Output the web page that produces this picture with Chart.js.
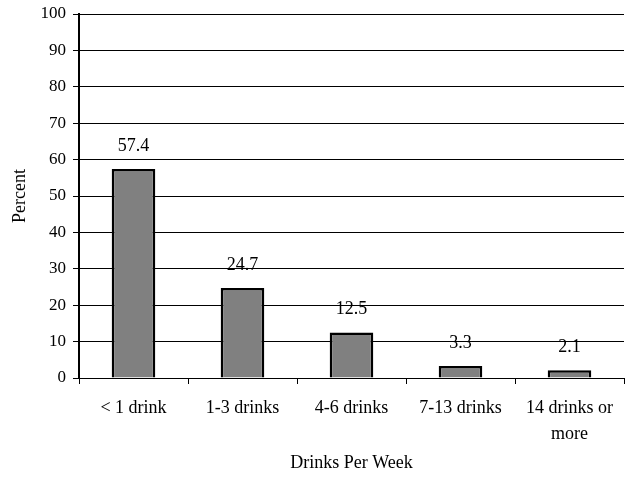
<!DOCTYPE html>
<html>
<head>
<meta charset="utf-8">
<script src="https://cdn.jsdelivr.net/npm/chart.js@4/dist/chart.umd.min.js"></script>
<style>
  html, body { margin: 0; padding: 0; background: #fff; }
  #wrap { width: 628px; height: 477px; }
</style>
</head>
<body>
<div id="wrap"><canvas id="c" width="628" height="477"></canvas></div>
<script>
// Drinks per week distribution (percent of respondents)
const categories = ['< 1 drink', '1-3 drinks', '4-6 drinks', '7-13 drinks', ['14 drinks or', 'more']];
const percents = [57.4, 24.7, 12.5, 3.3, 2.1];
const yTicks = [0, 10, 20, 30, 40, 50, 60, 70, 80, 90, 100];

const FONT = "'Liberation Serif', 'Times New Roman', serif";

// Writes each bar's value above it
const valueLabels = {
  id: 'valueLabels',
  afterDatasetsDraw(chart) {
    const ctx = chart.ctx;
    const meta = chart.getDatasetMeta(0);
    ctx.save();
    ctx.font = '18px ' + FONT;
    ctx.fillStyle = '#000';
    ctx.textAlign = 'center';
    ctx.textBaseline = 'middle';
    meta.data.forEach((bar, i) => {
      ctx.fillText(String(percents[i]), bar.x, bar.y - 23);
    });
    ctx.restore();
  }
};

new Chart(document.getElementById('c'), {
  type: 'bar',
  data: {
    labels: categories,
    datasets: [{
      data: percents,
      backgroundColor: '#808080',
      borderColor: '#000',
      borderWidth: 2.5,
      categoryPercentage: 0.4,
      barPercentage: 1.0
    }]
  },
  options: {
    responsive: false,
    animation: false,
    layout: { padding: { top: 14, right: 4, left: 0, bottom: 0 } },
    plugins: { legend: { display: false }, tooltip: { enabled: false } },
    scales: {
      x: {
        offset: true,
        grid: { display: true, offset: true, drawOnChartArea: false, color: '#000', tickLength: 6 },
        border: { display: true, color: '#000', width: 1 },
        ticks: { color: '#000', font: { family: FONT, size: 18, lineHeight: 1.4 }, padding: 12, maxRotation: 0, autoSkip: false },
        title: { display: true, text: 'Drinks Per Week', color: '#000', font: { family: FONT, size: 18 }, padding: { top: 10, bottom: 3 } },
        afterFit(scale) { scale.height = 99; scale.paddingLeft = 0; scale.paddingRight = 0; }
      },
      y: {
        min: 0,
        max: 100,
        afterBuildTicks(scale) { scale.ticks = yTicks.map(v => ({ value: v })); },
        grid: { color: '#000', tickLength: 6, lineWidth: 1 },
        border: { display: true, color: '#000', width: 2 },
        ticks: { color: '#000', font: { family: FONT, size: 17 }, padding: 7 },
        title: { display: true, text: 'Percent', color: '#000', font: { family: FONT, size: 18 }, padding: { top: 9, bottom: 4 } },
        afterFit(scale) { scale.width = 79; scale.paddingTop = 0; scale.paddingBottom = 0; }
      }
    }
  },
  plugins: [valueLabels]
});
</script>
</body>
</html>
